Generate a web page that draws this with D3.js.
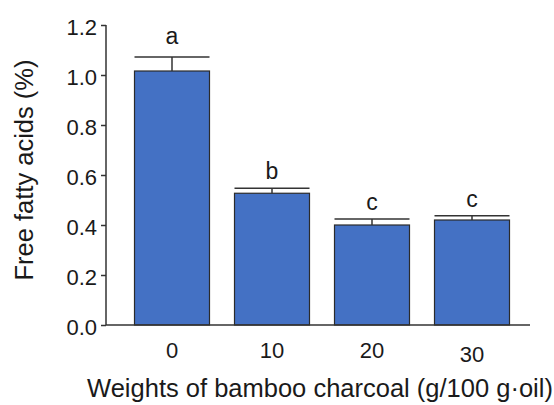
<!DOCTYPE html>
<html><head><meta charset="utf-8">
<script src="https://cdn.jsdelivr.net/npm/d3@7"></script>
<style>
html,body{margin:0;padding:0;background:#fff;}
text{font-family:"Liberation Sans",Arial,sans-serif;fill:#1a1a1a;}
</style></head>
<body>
<svg id="chart" width="554" height="405"></svg>
<script>
const categories = ["0", "10", "20", "30"];
const values = [1.016, 0.527, 0.400, 0.420];
const errors = [0.056, 0.020, 0.024, 0.017];
const letters = ["a", "b", "c", "c"];
const yTicks = [0, 0.2, 0.4, 0.6, 0.8, 1.0, 1.2];
const xTitle = "Weights of bamboo charcoal (g/100 g\u00b7oil)";
const yTitle = "Free fatty acids (%)";

const svg = d3.select("#chart");
const axisColor = "#333";
const barColor = "#4471c4";
const font = "'Liberation Sans',Arial,sans-serif";

const y = d3.scaleLinear().domain([0, 1.2]).range([325, 25]);
const x = d3.scaleBand().domain(categories).range([122, 522]).paddingInner(0.25).paddingOuter(0.125);

// bars
svg.append("g").selectAll("rect").data(categories).join("rect")
  .attr("x", d => x(d))
  .attr("y", (d, i) => y(values[i]))
  .attr("width", x.bandwidth())
  .attr("height", (d, i) => y(0) - y(values[i]))
  .attr("fill", barColor)
  .attr("stroke", "#2b2b2b")
  .attr("stroke-width", 1.2);

// error bars
const eg = svg.append("g").attr("stroke", axisColor).attr("stroke-width", 1.5);
categories.forEach((c, i) => {
  const cx = x(c) + x.bandwidth() / 2;
  eg.append("line").attr("x1", cx).attr("x2", cx)
    .attr("y1", y(values[i])).attr("y2", y(values[i] + errors[i]));
  eg.append("line").attr("x1", x(c)).attr("x2", x(c) + x.bandwidth())
    .attr("y1", y(values[i] + errors[i])).attr("y2", y(values[i] + errors[i]));
});

// letters
svg.append("g").selectAll("text").data(categories).join("text")
  .attr("x", d => x(d) + x.bandwidth() / 2)
  .attr("y", (d, i) => y(values[i] + errors[i]) - (i === 0 ? 13 : 9))
  .attr("text-anchor", "middle")
  .attr("font-size", 23)
  .text((d, i) => letters[i]);

// y axis
const yAxis = d3.axisLeft(y).tickValues(yTicks).tickFormat(d3.format(".1f")).tickSize(5).tickPadding(4);
const ya = svg.append("g").attr("transform", "translate(106,0)").call(yAxis);
ya.select(".domain").attr("stroke", axisColor).attr("stroke-width", 1.5).attr("d", "M0,25V325");
ya.selectAll(".tick line").attr("stroke", axisColor).attr("stroke-width", 1.5);
ya.selectAll(".tick text").attr("font-size", 22).attr("dy", "0.42em")
  .style("font-family", font).attr("fill", "#1a1a1a");

// x axis
const xAxis = d3.axisBottom(x).tickSize(0).tickPadding(0);
const xa = svg.append("g").attr("transform", "translate(0,325)").call(xAxis);
xa.select(".domain").attr("stroke", axisColor).attr("stroke-width", 1.5).attr("d", "M106,0H530");
xa.selectAll(".tick text").attr("font-size", 22)
  .style("font-family", font).attr("fill", "#1a1a1a")
  .attr("dy", 0)
  .attr("y", (d, i) => i === 3 ? 37 : 33);

// titles
svg.append("text").attr("x", 320).attr("y", 397).attr("text-anchor", "middle")
  .attr("font-size", 25.5).text(xTitle);
svg.append("text").attr("transform", "translate(33,170) rotate(-90)").attr("text-anchor", "middle")
  .attr("font-size", 25.5).text(yTitle);
</script>
</body></html>
